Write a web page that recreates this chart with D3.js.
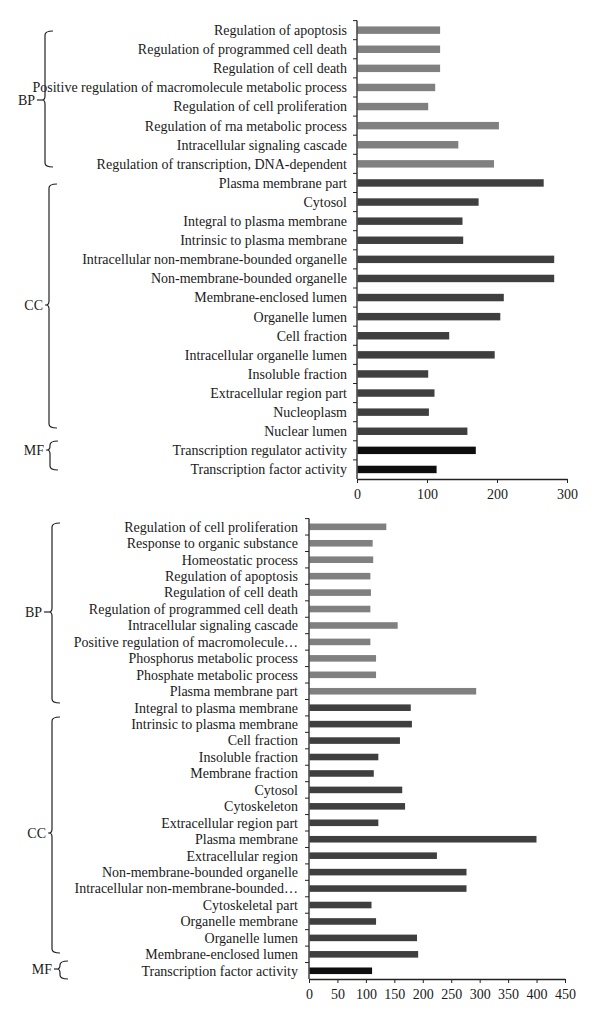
<!DOCTYPE html>
<html>
<head>
<meta charset="utf-8">
<script src="https://cdn.jsdelivr.net/npm/d3@7"></script>
<style>
  html, body { margin: 0; padding: 0; background: #fff; }
  svg text { font-family: "Liberation Serif", "Times New Roman", serif; fill: #1a1a1a; }
</style>
</head>
<body>
<svg id="chart" width="600" height="1027"></svg>
<script>
// ---------- DATA ----------
const topCategories = [
  "Regulation of apoptosis",
  "Regulation of programmed cell death",
  "Regulation of cell death",
  "Positive regulation of macromolecule metabolic process",
  "Regulation of cell proliferation",
  "Regulation of rna metabolic process",
  "Intracellular signaling cascade",
  "Regulation of transcription, DNA-dependent",
  "Plasma membrane part",
  "Cytosol",
  "Integral to plasma membrane",
  "Intrinsic to plasma membrane",
  "Intracellular non-membrane-bounded organelle",
  "Non-membrane-bounded organelle",
  "Membrane-enclosed lumen",
  "Organelle lumen",
  "Cell fraction",
  "Intracellular organelle lumen",
  "Insoluble fraction",
  "Extracellular region part",
  "Nucleoplasm",
  "Nuclear lumen",
  "Transcription regulator activity",
  "Transcription factor activity"
];
const topValues = [118, 118, 118, 111, 101, 202, 144, 195, 266, 173, 150, 151, 281, 281, 209, 204, 131, 196, 101, 110, 102, 157, 169, 113];
const topGroupOf = ["BP","BP","BP","BP","BP","BP","BP","BP","CC","CC","CC","CC","CC","CC","CC","CC","CC","CC","CC","CC","CC","CC","MF","MF"];
const topTicks = [0, 100, 200, 300];

const bottomCategories = [
  "Regulation of cell proliferation",
  "Response to organic substance",
  "Homeostatic process",
  "Regulation of apoptosis",
  "Regulation of cell death",
  "Regulation of programmed cell death",
  "Intracellular signaling cascade",
  "Positive regulation of macromolecule\u2026",
  "Phosphorus metabolic process",
  "Phosphate metabolic process",
  "Plasma membrane part",
  "Integral to plasma membrane",
  "Intrinsic to plasma membrane",
  "Cell fraction",
  "Insoluble fraction",
  "Membrane fraction",
  "Cytosol",
  "Cytoskeleton",
  "Extracellular region part",
  "Plasma membrane",
  "Extracellular region",
  "Non-membrane-bounded organelle",
  "Intracellular non-membrane-bounded\u2026",
  "Cytoskeletal part",
  "Organelle membrane",
  "Organelle lumen",
  "Membrane-enclosed lumen",
  "Transcription factor activity"
];
const bottomValues = [135, 111, 112, 107, 108, 107, 155, 107, 117, 117, 293, 178, 180, 159, 121, 113, 163, 168, 121, 399, 224, 276, 276, 109, 117, 189, 191, 110];
const bottomGroupOf = ["BP","BP","BP","BP","BP","BP","BP","BP","BP","BP","BP","CC","CC","CC","CC","CC","CC","CC","CC","CC","CC","CC","CC","CC","CC","CC","CC","MF"];
const bottomTicks = [0, 50, 100, 150, 200, 250, 300, 350, 400, 450];

const groupNames = ["BP", "CC", "MF"];
const groupColors = ["#808080", "#3f3f3f", "#0e0e0e"];

// ---------- DRAW ----------
const svg = d3.select("#chart");
const color = d3.scaleOrdinal().domain(groupNames).range(groupColors);
const FS = 14;

function drawPanel(cfg) {
  const g = svg.append("g");
  const x = d3.scaleLinear().domain(cfg.domain).range([cfg.x0, cfg.x1]);
  const y = d3.scaleBand().domain(cfg.cats).range([cfg.y0, cfg.y1])
    .paddingInner(cfg.pad).paddingOuter(cfg.pad / 2);
  const step = y.step();

  // bars
  g.selectAll("rect.bar").data(cfg.cats).enter().append("rect")
    .attr("x", x(0) + 0.5)
    .attr("y", d => y(d))
    .attr("width", (d, i) => x(cfg.values[i]) - x(0))
    .attr("height", y.bandwidth())
    .attr("fill", (d, i) => color(cfg.groups[i]));

  // category labels
  g.selectAll("text.cat").data(cfg.cats).enter().append("text")
    .attr("x", x(0) - cfg.labelGap)
    .attr("y", d => y(d) + y.bandwidth() / 2)
    .attr("dy", "0.35em")
    .attr("text-anchor", "end")
    .attr("font-size", FS)
    .text(d => d);

  // vertical axis line and boundary ticks
  g.append("line")
    .attr("x1", x(0)).attr("x2", x(0))
    .attr("y1", cfg.y0).attr("y2", cfg.y1)
    .attr("stroke", "#222").attr("stroke-width", 1.3);
  const bounds = d3.range(cfg.cats.length).map(i => cfg.y0 + i * step);
  g.selectAll("line.yt").data(bounds).enter().append("line")
    .attr("x1", x(0) - 4).attr("x2", x(0))
    .attr("y1", d => d).attr("y2", d => d)
    .attr("stroke", "#222").attr("stroke-width", 1);

  // x axis
  const xAxis = d3.axisBottom(x).tickValues(cfg.ticks).tickSizeInner(4).tickSizeOuter(0).tickPadding(6);
  const ax = g.append("g").attr("transform", `translate(0,${cfg.y1})`).call(xAxis);
  ax.select(".domain").attr("stroke", "#222").attr("stroke-width", 1.3);
  ax.selectAll(".tick line").attr("stroke", "#222");
  ax.selectAll(".tick text")
    .attr("font-family", '"Liberation Serif", serif')
    .attr("font-size", FS).attr("fill", "#1a1a1a");

  // group braces
  cfg.braces.forEach(b => {
    const bx = b.x, t = b.y1, bot = b.y2, c = b.cy, h = 8, r = 4;
    const p = d3.path();
    p.moveTo(bx + h, t);
    p.quadraticCurveTo(bx, t, bx, t + r);
    p.lineTo(bx, c - r);
    p.quadraticCurveTo(bx, c, bx - 3, c);
    p.quadraticCurveTo(bx, c, bx, c + r);
    p.lineTo(bx, bot - r);
    p.quadraticCurveTo(bx, bot, bx + h, bot);
    g.append("path").attr("d", p.toString())
      .attr("fill", "none").attr("stroke", "#222").attr("stroke-width", 1.2);
    g.append("line")
      .attr("x1", b.labelX + 2).attr("x2", bx - 3)
      .attr("y1", c).attr("y2", c)
      .attr("stroke", "#222").attr("stroke-width", 1.2);
    g.append("text")
      .attr("x", b.labelX).attr("y", c).attr("dy", "0.35em")
      .attr("text-anchor", "end").attr("font-size", FS)
      .text(b.name);
  });
}

drawPanel({
  cats: topCategories, values: topValues, groups: topGroupOf, ticks: topTicks,
  domain: [0, 300], x0: 357, x1: 567, y0: 20.6, y1: 479, pad: 0.61, labelGap: 10,
  braces: [
    { name: "BP", x: 45, y1: 31, y2: 167, cy: 100, labelX: 35 },
    { name: "CC", x: 49, y1: 184, y2: 428, cy: 305, labelX: 43 },
    { name: "MF", x: 50, y1: 441, y2: 470, cy: 450, labelX: 44 }
  ]
});

drawPanel({
  cats: bottomCategories, values: bottomValues, groups: bottomGroupOf, ticks: bottomTicks,
  domain: [0, 450], x0: 309, x1: 565, y0: 518.6, y1: 979, pad: 0.6, labelGap: 11,
  braces: [
    { name: "BP", x: 52, y1: 523, y2: 703, cy: 612, labelX: 42 },
    { name: "CC", x: 52, y1: 717, y2: 953, cy: 833, labelX: 46 },
    { name: "MF", x: 60, y1: 961, y2: 979, cy: 969, labelX: 52 }
  ]
});
</script>
</body>
</html>
